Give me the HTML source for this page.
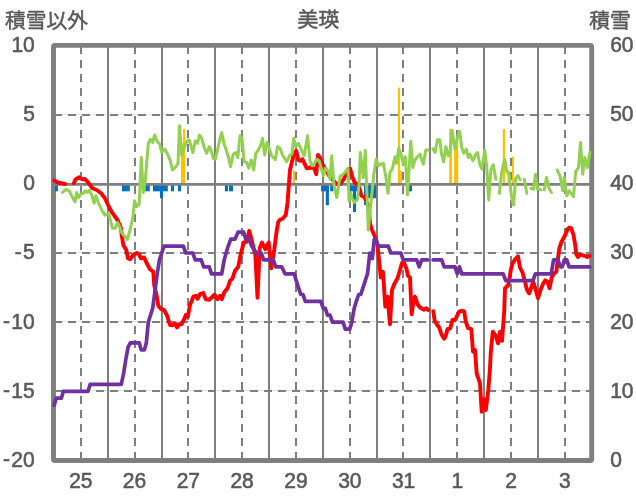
<!DOCTYPE html>
<html lang="ja"><head><meta charset="utf-8"><title>美瑛</title>
<style>html,body{margin:0;padding:0;background:#fff}svg{display:block}text{font-family:"Liberation Sans","Noto Sans CJK JP",sans-serif;font-size:21px;fill:#595959;stroke:#595959;stroke-width:0.55px;stroke-linejoin:round}text.j{font-size:20.8px;stroke-width:0.5px}</style></head><body>
<svg width="636" height="501" viewBox="0 0 636 501">
<rect width="636" height="501" fill="#fff"/>
<g stroke="#e2e2e2" stroke-width="1" fill="none">
<path d="M54.0 114.50H592.0"/>
<path d="M54.0 252.50H592.0"/>
<path d="M54.0 321.50H592.0"/>
<path d="M54.0 390.50H592.0"/>
</g>
<g stroke="#7f7f7f" stroke-width="2" stroke-dasharray="8 6" fill="none">
<path d="M54.0 115.00H592.0"/>
<path d="M54.0 253.00H592.0"/>
<path d="M54.0 322.00H592.0"/>
<path d="M54.0 391.00H592.0"/>
<path d="M81.00 46.0V460.5"/>
<path d="M135.00 46.0V460.5"/>
<path d="M188.00 46.0V460.5"/>
<path d="M242.00 46.0V460.5"/>
<path d="M296.00 46.0V460.5"/>
<path d="M350.00 46.0V460.5"/>
<path d="M403.00 46.0V460.5"/>
<path d="M457.00 46.0V460.5"/>
<path d="M511.00 46.0V460.5"/>
<path d="M565.00 46.0V460.5"/>
</g>
<g stroke="#7f7f7f" stroke-width="2" fill="none">
<path d="M108.00 45.5V460.5"/>
<path d="M162.00 45.5V460.5"/>
<path d="M215.00 45.5V460.5"/>
<path d="M269.00 45.5V460.5"/>
<path d="M323.00 45.5V460.5"/>
<path d="M377.00 45.5V460.5"/>
<path d="M430.00 45.5V460.5"/>
<path d="M484.00 45.5V460.5"/>
<path d="M538.00 45.5V460.5"/>
</g>
<rect x="53.50" y="45.40" width="538.20" height="415.10" rx="1.5" fill="none" stroke="#7f7f7f" stroke-width="4.9"/>
<g fill="#0070c0">
<rect x="55.00" y="184.40" width="2.90" height="6.92"/>
<rect x="121.90" y="184.40" width="7.90" height="6.92"/>
<rect x="145.20" y="184.40" width="4.60" height="6.92"/>
<rect x="153.00" y="184.40" width="14.80" height="6.92"/>
<rect x="160.00" y="184.40" width="3.00" height="13.83"/>
<rect x="171.00" y="184.40" width="3.00" height="6.92"/>
<rect x="177.90" y="184.40" width="3.10" height="6.92"/>
<rect x="224.90" y="184.40" width="3.10" height="6.92"/>
<rect x="229.00" y="184.40" width="4.00" height="6.92"/>
<rect x="321.10" y="184.40" width="7.80" height="6.92"/>
<rect x="325.80" y="184.40" width="3.10" height="20.75"/>
<rect x="330.20" y="184.40" width="3.10" height="6.92"/>
<rect x="348.40" y="184.40" width="8.90" height="6.92"/>
<rect x="353.00" y="184.40" width="3.00" height="27.67"/>
<rect x="364.10" y="184.40" width="11.90" height="13.83"/>
<rect x="364.10" y="184.40" width="2.40" height="20.75"/>
<rect x="408.90" y="184.40" width="3.10" height="6.92"/>
</g>
<g fill="#ffc000">
<rect x="180.90" y="142.90" width="2.20" height="41.50"/>
<rect x="183.00" y="129.07" width="2.20" height="55.33"/>
<rect x="293.00" y="170.57" width="2.10" height="13.83"/>
<rect x="398.00" y="87.57" width="2.10" height="96.83"/>
<rect x="400.10" y="170.57" width="2.00" height="13.83"/>
<rect x="449.20" y="129.07" width="2.80" height="55.33"/>
<rect x="454.10" y="142.90" width="4.10" height="41.50"/>
<rect x="502.80" y="129.07" width="2.20" height="55.33"/>
<rect x="507.50" y="170.57" width="2.50" height="13.83"/>
<rect x="512.00" y="156.73" width="1.90" height="27.67"/>
</g>
<path d="M54.0 184.40H592.0" stroke="#7f7f7f" stroke-width="2.8" fill="none"/>
<g stroke="#ff0000" stroke-width="3.9" fill="none" stroke-linejoin="round" stroke-linecap="round">
<polyline points="54.2,180.5 58.3,182.8 61.7,183.3 65.3,184.0"/>
<polyline points="73.8,183.3 75.5,179.5 79.2,177.2 82.0,179.3 85.0,179.0 87.5,181.7 92.5,188.3 96.7,190.0 101.7,193.8 105.0,198.3 109.2,207.5 113.3,214.2 117.5,220.0 120.8,227.5 122.0,236.7 123.3,245.0 126.3,250.0 128.0,258.3 130.0,259.2 133.3,255.0 136.7,253.0 139.2,254.2 140.8,258.3 144.2,257.5 146.7,263.3 150.0,269.2 153.3,271.7 154.2,285.0 156.7,295.8 158.3,305.8 160.8,308.8 164.2,310.0 167.5,316.7 170.0,325.0 172.5,325.3 175.0,323.3 177.0,327.5 179.2,324.2 181.7,324.2 184.2,319.2 185.8,315.0 187.8,316.7 190.0,305.0 193.3,296.7 195.8,295.8 197.5,298.8 200.0,294.2 203.3,293.0 205.8,299.2 209.2,299.7 211.7,297.5 214.5,294.7 217.5,299.2 220.0,295.8 221.7,299.2 224.2,292.5 227.5,288.3 230.0,280.8 232.5,278.3 235.0,270.8 238.3,266.7 240.0,257.5 243.7,242.5 247.0,241.7 249.2,230.8 251.7,240.0 254.2,250.8 255.3,254.2 257.5,297.7 259.7,248.3 262.0,242.5 265.3,249.2 268.7,242.5 271.3,268.3 274.2,250.0 276.7,230.8 278.3,221.7 280.0,219.7 282.5,218.7 285.8,215.0 287.5,203.0 290.0,170.0 292.0,161.7 294.2,153.3 296.3,150.8 298.3,160.0 300.3,160.8 302.5,159.2 306.7,168.3 310.0,167.5 314.2,168.3 316.2,174.2 318.0,155.0 320.0,157.5 322.5,164.2 325.8,170.0 329.2,175.8 332.5,179.2 335.8,183.3 337.5,184.2 340.8,183.8 344.2,178.3 346.7,173.3 350.0,168.3 352.5,177.5 354.7,182.5 357.5,184.2 359.6,188.5 361.3,195.5 364.5,197.1 366.5,201.5 368.8,206.8 370.0,223.3 371.7,229.2 375.0,236.7 377.5,245.0 379.7,266.7 380.8,277.5 383.0,271.7 385.3,306.7 387.5,296.7 390.0,324.2 392.0,290.0 394.2,284.2 397.5,278.3 400.0,270.0 402.0,263.0 404.2,263.3 406.3,268.3 408.0,275.8 410.0,277.5 411.7,314.2 413.7,300.0 415.0,296.7 417.5,304.2 420.0,307.5 424.2,309.7 426.2,308.3 428.2,310.0"/>
<polyline points="433.3,311.2 434.7,320.8 436.7,324.2 439.2,327.5 441.7,335.0 444.2,338.7 445.8,335.8 447.5,329.2 450.3,328.3 452.5,320.0 455.0,320.0 457.5,315.0 459.2,311.7 461.7,310.8 464.2,311.3 465.8,321.7 468.0,328.0 471.3,329.2 473.0,351.7 475.0,350.0 476.7,373.3 480.0,383.3 481.7,411.7 483.7,399.2 485.8,410.0 488.3,390.0 490.0,368.3 490.8,351.7 492.8,331.7 495.8,335.8 498.0,343.3 500.0,331.7 502.0,340.8 504.2,311.7 505.0,288.3 508.3,285.0 510.8,270.0 512.5,263.3 515.3,259.2 518.0,256.3 520.0,267.5 522.5,272.5 525.0,281.7 527.0,290.0 529.2,293.3 531.3,287.5 533.3,281.7 535.3,288.3 538.0,298.3 540.8,289.2 543.3,283.3 545.3,280.3 547.5,281.7 549.5,288.3 551.7,277.5 554.2,273.3 556.3,271.7 558.0,258.3 559.3,248.3 561.3,242.5 565.2,235.0 567.7,229.2 569.3,227.5 571.3,228.3 573.5,235.0 575.2,245.0 576.3,254.2 578.0,257.0 580.2,254.2 582.7,255.3 585.2,255.8 587.3,257.0 589.8,255.8"/>
</g>
<g stroke="#7030a0" stroke-width="3.7" fill="none" stroke-linejoin="round" stroke-linecap="round">
<polyline points="54.2,405.2 56.1,398.2 61.4,398.2 63.3,391.3 87.9,391.3 90.2,384.4 121.3,384.4 123.6,373.4 125.8,359.5 128.1,347.1 130.3,342.9 139.3,342.9 141.2,349.8 144.5,349.8 146.3,342.9 148.3,322.2 150.5,315.2 152.7,308.3 155.0,291.0 157.2,273.8 159.5,259.9 161.7,253.0 164.0,246.1 183.3,246.1 185.8,253.0 192.8,253.0 195.2,259.9 201.2,259.9 203.7,266.8 209.2,266.8 211.5,273.8 221.7,273.8 224.2,259.9 227.5,248.2 230.8,239.2 235.0,239.2 238.0,232.2 243.7,232.2 245.8,239.2 249.2,239.2 251.7,246.1 254.2,249.5 256.2,253.0 261.3,253.0 263.7,259.9 273.3,259.9 275.8,266.8 281.7,266.8 285.0,273.8 294.2,273.8 296.3,280.7 298.5,287.6 300.8,294.5 303.0,294.5 305.3,301.4 320.8,301.4 323.3,308.3 325.3,308.3 327.5,315.2 330.0,315.2 332.5,322.2 343.0,322.2 345.3,329.1 349.7,329.1 351.8,322.2 354.2,308.3 356.3,301.4 358.7,294.5 360.8,294.5 363.0,287.6 365.3,280.7 367.5,273.8 369.8,253.0 372.3,258.5 374.3,239.2 375.8,239.2 378.3,246.1 388.3,246.1 390.8,253.0 400.8,253.0 403.3,259.9 416.7,259.9 419.2,266.8 421.7,259.9 427.8,259.9"/>
<polyline points="433.1,259.9 441.7,259.9 444.2,266.8 455.0,266.8 457.3,273.8 459.4,266.8 461.8,273.8 503.2,273.8 505.7,280.7 533.0,280.7 535.4,273.8 551.2,273.8 553.6,259.9 558.0,259.9 560.2,266.8 562.3,266.8 564.4,259.9 566.8,259.9 569.0,266.8 589.8,266.8"/>
</g>
<g stroke="#92d050" stroke-width="3.0" fill="none" stroke-linejoin="round" stroke-linecap="round">
<polyline points="62.5,192.5 65.8,189.5 69.2,190.8 71.7,195.8 75.0,201.7 76.7,192.5 78.7,197.5 80.8,194.2 83.3,193.3 85.3,190.8 87.5,192.5 89.5,190.3 91.7,195.0 94.2,203.3 95.8,195.8 98.3,202.5 101.7,210.0 105.0,215.3 108.7,213.3 110.8,221.7 112.5,228.3 115.0,228.3 117.5,222.5 120.0,227.5 122.0,233.3 127.5,239.5 130.0,230.0 133.0,216.7 134.5,200.8 136.7,206.7 139.2,204.2 141.3,157.5 143.3,192.5 145.3,180.0 148.3,143.3 150.3,139.2 152.5,142.5 154.7,135.0 156.7,140.8 159.7,144.2 161.7,152.5 165.0,149.2 167.5,154.2 170.3,160.8 172.5,170.0 175.3,167.5 178.0,163.3 179.5,125.8 181.7,155.0 184.2,147.5 186.7,141.7 189.2,140.0 190.8,145.0 192.8,152.5 195.3,140.8 197.5,143.3 199.5,135.0 201.7,138.3 204.2,147.5 206.7,153.3 209.2,146.7 210.8,149.2 213.3,158.3 215.3,159.2 217.5,150.0 219.7,140.0 221.7,132.5 224.2,144.2 226.2,150.0 228.3,156.7 230.5,166.7 233.3,154.2 235.8,152.5 237.8,157.5 240.0,135.8 242.0,138.3 244.2,161.7 246.7,162.5 248.7,168.3 251.3,160.0 253.7,170.0 255.8,153.3 258.3,150.0 260.8,145.0 262.5,138.3 264.7,155.0 267.0,142.5 269.2,148.3 271.7,155.8 275.3,159.7 277.5,146.7 280.0,148.3 282.5,155.0 286.7,161.7 290.0,155.0 292.0,154.2 293.7,138.3 295.8,146.7 298.3,143.3 300.3,147.5 304.2,155.8 307.5,135.8 310.0,160.8 312.0,165.8 314.5,163.3 316.7,159.2 319.2,160.8 321.7,170.0 323.3,175.8 325.3,168.3 328.0,170.8 330.0,179.2 331.7,155.8 334.2,186.7 336.7,197.5 340.3,175.8 342.5,175.0 345.3,171.7 348.0,168.3 349.0,201.0 350.8,193.1 351.9,198.1 354.4,202.5 357.3,199.6 359.0,185.2 360.3,152.5 363.3,177.5 365.3,150.5 368.3,230.0 373.7,175.0 376.3,159.2 378.3,165.8 380.8,164.2 383.3,163.3 385.8,176.7 388.0,193.3 390.0,172.5 392.5,168.3 395.0,156.7 396.7,163.3 398.7,148.3 400.8,153.3 403.3,164.2 405.3,156.7 407.5,195.0 410.8,141.3 412.8,167.5 415.0,160.0 417.5,156.7 420.0,154.2 423.3,164.2 425.8,150.0 428.3,150.0"/>
<polyline points="433.0,148.7 435.0,152.5 437.5,139.7 439.7,139.7 441.7,155.0 443.7,161.7 445.8,146.7 448.3,155.8 450.0,152.5 452.0,130.3 455.0,149.2 457.5,136.7 459.7,131.3 461.7,147.5 463.7,153.3 466.3,149.2 468.3,157.5 470.0,154.2 473.0,160.8 475.3,155.0 477.5,152.5 480.0,165.0 482.0,169.2 484.7,150.0 486.7,166.7 488.7,200.0 490.8,170.0 493.3,164.7 495.8,179.2"/>
<polyline points="499.3,193.3 501.8,171.7 504.7,159.2 506.8,171.7 509.0,174.2 511.3,195.0 513.5,205.0 515.7,178.3 517.7,175.5 520.2,179.7"/>
<polyline points="524.3,179.2 526.8,193.3"/>
<polyline points="531.0,188.3 533.5,189.2 535.5,174.2 537.7,189.2 541.0,189.7"/>
<polyline points="544.3,189.7 546.5,177.5 549.0,188.3 551.5,192.5"/>
<polyline points="557.3,170.0 560.2,176.7 562.7,190.8 564.3,177.5 566.8,195.8 569.3,190.8 573.5,196.7 575.7,171.7 578.5,167.5 580.5,142.5 582.7,174.2 584.7,157.5 587.3,167.5 589.8,152.5"/>
</g>
<text class="j" x="4.9" y="27.7">積雪以外</text>
<text class="j" x="318.4" y="27.2" text-anchor="middle">美瑛</text>
<text class="j" x="589.3" y="27.9">積雪</text>
<text transform="translate(34.8,51.8) scale(1,1.05)" text-anchor="end">10</text>
<text transform="translate(34.8,121.0) scale(1,1.05)" text-anchor="end">5</text>
<text transform="translate(34.8,190.1) scale(1,1.05)" text-anchor="end">0</text>
<text transform="translate(36.0,259.3) scale(1,1.05)" text-anchor="end"><tspan dx="-1.3" dy="-0.3">-</tspan><tspan dx="1.3" dy="0.3">5</tspan></text>
<text transform="translate(36.0,328.5) scale(1,1.05)" text-anchor="end"><tspan dx="-1.3" dy="-0.3">-</tspan><tspan dx="1.3" dy="0.3">10</tspan></text>
<text transform="translate(36.0,397.6) scale(1,1.05)" text-anchor="end"><tspan dx="-1.3" dy="-0.3">-</tspan><tspan dx="1.3" dy="0.3">15</tspan></text>
<text transform="translate(36.0,466.8) scale(1,1.05)" text-anchor="end"><tspan dx="-1.3" dy="-0.3">-</tspan><tspan dx="1.3" dy="0.3">20</tspan></text>
<text transform="translate(610.2,51.8) scale(1,1.05)">60</text>
<text transform="translate(610.2,121.0) scale(1,1.05)">50</text>
<text transform="translate(610.2,190.1) scale(1,1.05)">40</text>
<text transform="translate(610.2,259.3) scale(1,1.05)">30</text>
<text transform="translate(610.2,328.5) scale(1,1.05)">20</text>
<text transform="translate(610.2,397.6) scale(1,1.05)">10</text>
<text transform="translate(610.2,466.8) scale(1,1.05)">0</text>
<text transform="translate(80.8,487.8) scale(1,1.05)" text-anchor="middle">25</text>
<text transform="translate(134.5,487.8) scale(1,1.05)" text-anchor="middle">26</text>
<text transform="translate(188.3,487.8) scale(1,1.05)" text-anchor="middle">27</text>
<text transform="translate(242.1,487.8) scale(1,1.05)" text-anchor="middle">28</text>
<text transform="translate(296.0,487.8) scale(1,1.05)" text-anchor="middle">29</text>
<text transform="translate(349.8,487.8) scale(1,1.05)" text-anchor="middle">30</text>
<text transform="translate(403.6,487.8) scale(1,1.05)" text-anchor="middle">31</text>
<text transform="translate(457.4,487.8) scale(1,1.05)" text-anchor="middle">1</text>
<text transform="translate(511.1,487.8) scale(1,1.05)" text-anchor="middle">2</text>
<text transform="translate(564.9,487.8) scale(1,1.05)" text-anchor="middle">3</text>
</svg>
</body></html>
